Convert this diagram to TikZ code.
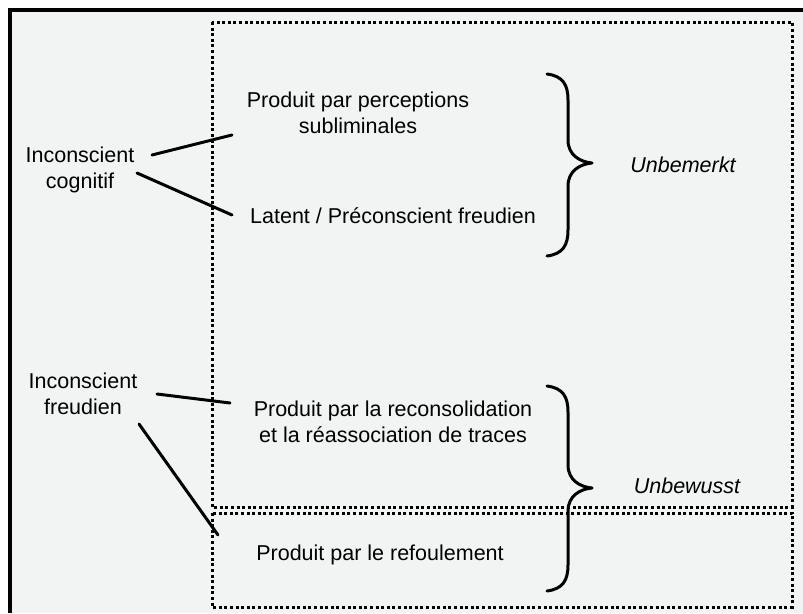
\documentclass[tikz,border=0pt]{standalone}
\usepackage{fontspec}
\setmainfont{Liberation Sans}
\definecolor{paper}{RGB}{241,244,243}
\begin{document}
\begin{tikzpicture}[x=1pt,y=-1pt,
  lbl/.style={font=\fontsize{21.5}{25.5}\selectfont, align=center, inner sep=0pt},
  emphlbl/.style={font=\fontsize{21.5}{25.5}\selectfont\itshape, inner sep=0pt},
  conn/.style={line width=3pt, line cap=round},
  dotbox/.style={line width=3pt, dash pattern=on 3pt off 2.6pt},
  bracestyle/.style={line width=3pt, line cap=round, line join=round}]
\useasboundingbox (0,0) rectangle (803,613);
\fill[white] (0,0) rectangle (803,613);
\fill[paper] (10,10) rectangle (803,613);
\draw[line width=3.5pt] (10,613) -- (10,10) -- (803,10);

% dotted boxes
\draw[dotbox] (212,22) rectangle (792,507);
\draw[dotbox] (212,513) rectangle (792,607);

% texts
\node[lbl] (pp) at (358,113) {Produit par perceptions\\subliminales};
\node[lbl] (lp) at (393,216) {Latent / Préconscient freudien};
\node[lbl] (ic) at (80,170) {Inconscient\\cognitif};
\node[emphlbl] (ub1) at (683,165) {Unbemerkt};
\node[lbl] (if) at (83,394) {Inconscient\\freudien};
\node[lbl] (pr) at (393,422) {Produit par la reconsolidation\\et la réassociation de traces};
\node[emphlbl] (ub2) at (687,486) {Unbewusst};
\node[lbl] (rf) at (380,555) {Produit par le refoulement};

% connector end points
\coordinate (a1) at (152,155); \coordinate (a2) at (232,135);
\coordinate (b1) at (137,173); \coordinate (b2) at (232,215);
\coordinate (c1) at (157,394); \coordinate (c2) at (230,403);
\coordinate (d1) at (139,424); \coordinate (d2) at (218,535);
\draw[conn] (a1) -- (a2);
\draw[conn] (b1) -- (b2);
\draw[conn] (c1) -- (c2);
\draw[conn] (d1) -- (d2);

% braces
\draw[bracestyle] (547,74) .. controls (563,76) and (568,85) .. (568,100)
  -- (568,140) .. controls (568,155) and (580,162) .. (592,163)
  .. controls (580,164) and (568,171) .. (568,186)
  -- (568,230) .. controls (568,245) and (563,254) .. (547,256);
\draw[bracestyle] (547,386) .. controls (563,388) and (568,397) .. (568,412)
  -- (568,465) .. controls (568,480) and (580,487) .. (592,488)
  .. controls (580,489) and (568,496) .. (568,511)
  -- (568,565) .. controls (568,580) and (563,589) .. (547,591);
\end{tikzpicture}
\end{document}
